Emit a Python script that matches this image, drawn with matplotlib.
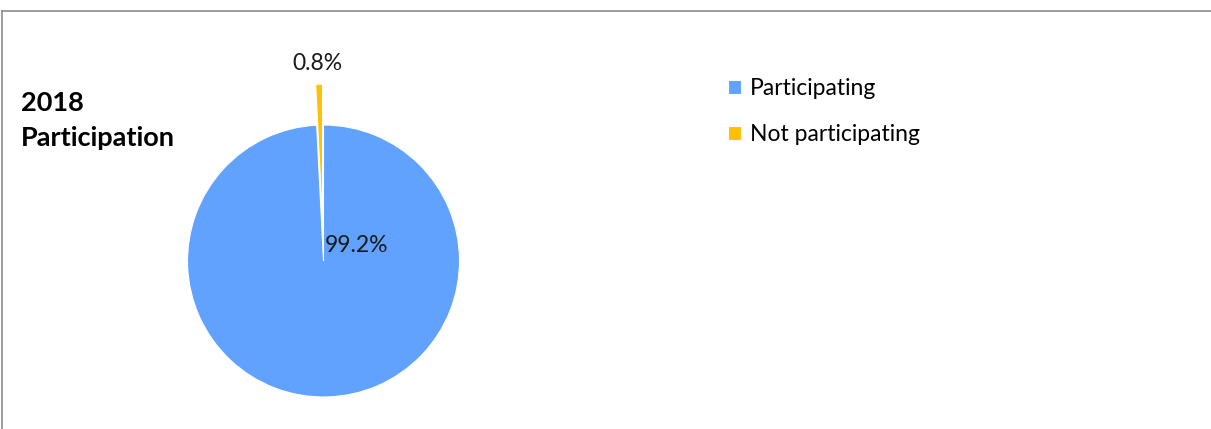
import numpy as np
from matplotlib import pyplot as plt
from matplotlib.lines import Line2D

labels = ["Participating", "Not participating"]
shares = [99.2, 0.8]
colors = ["#61a2ff", "#ffc000"]
explode = [0.0, 0.3]
title = "2018\nParticipation"

W, H = 1211, 429
fig = plt.figure(figsize=(W / 100, H / 100), dpi=100)
plt.rcParams['font.family'] = ['Lato', 'DejaVu Sans']

# pie axes: centre ~ (323.5, 261) px, radius ~136 px, limits +-1.5
cx, cy, r = 323.5, 261, 136
half = 1.5 * r
ax = fig.add_axes([(cx - half) / W, (H - cy - half) / H, 2 * half / W, 2 * half / H])
wedges, texts, autotexts = ax.pie(shares, colors=colors, explode=explode,
                                  startangle=90, counterclock=False,
                                  autopct='%1.1f%%',
                                  wedgeprops=dict(edgecolor='white', linewidth=0.8))
ax.set_xlim(-1.5, 1.5)
ax.set_ylim(-1.5, 1.5)
ax.set_aspect('equal')

# move the labels to where the reference puts them
autotexts[0].set_position(((356 - cx) / r, (cy - 246) / r))
autotexts[1].set_position(((317 - cx) / r, (cy - 64) / r))
for t in autotexts:
    t.set_fontsize(16.5)
    t.set_color('#1a1a1a')

fig.text(21 / W, 1 - 120 / H, title, fontsize=19.5, fontweight='bold',
         va='center', ha='left', linespacing=1.55)

fig.legend(wedges, labels, loc='upper left', bbox_to_anchor=(728 / W, 1 - 78 / H),
           frameon=False, fontsize=16.5, handlelength=0.55, handleheight=0.55,
           handletextpad=0.4, labelspacing=1.08, borderaxespad=0, borderpad=0)

# chart border (top and left visible)
fig.add_artist(Line2D([2 / W, 1], [1 - 11 / H, 1 - 11 / H], color='#8c8c8c', lw=1.2))
fig.add_artist(Line2D([2 / W, 2 / W], [0, 1 - 11 / H], color='#8c8c8c', lw=1.2))

plt.savefig('out.png', dpi=100)
